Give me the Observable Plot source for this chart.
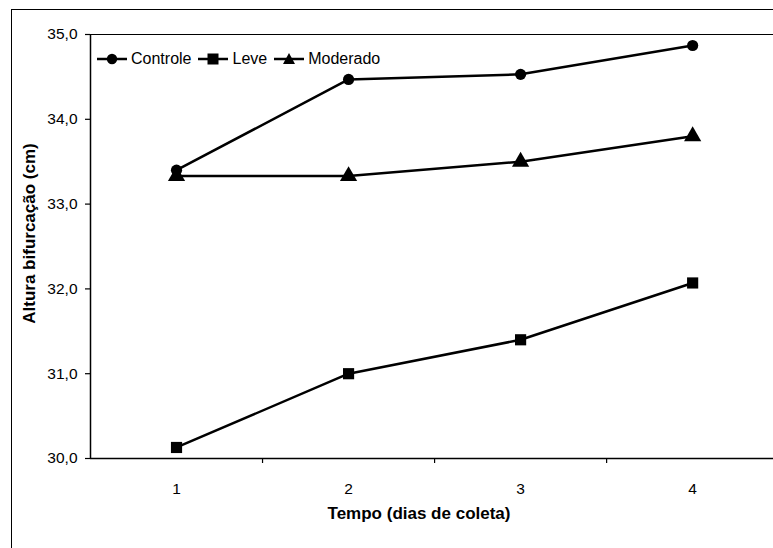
<!DOCTYPE html>
<html>
<head>
<meta charset="utf-8">
<script src="https://cdn.jsdelivr.net/npm/d3@7"></script>
<script src="https://cdn.jsdelivr.net/npm/@observablehq/plot@0.6"></script>
<style>
  html, body { margin: 0; padding: 0; background: #fff; }
  #wrap { position: relative; width: 773px; height: 548px; overflow: hidden; font-family: "Liberation Sans", Arial, sans-serif; }
  #border { position: absolute; left: 11px; top: 9px; width: 900px; height: 700px; border: 1.5px solid #000; pointer-events: none; }
  #legend { position: absolute; left: 97px; top: 50px; display: flex; align-items: center; font-size: 16px; color: #000; }
  #legend .item { display: flex; align-items: center; margin-right: 7px; }
  #legend svg { margin-right: 4px; }
</style>
</head>
<body>
<div id="wrap"><div id="border"></div></div>
<script>
const days = [1, 2, 3, 4];
const seriesNames = ["Controle", "Leve", "Moderado"];
const controle = [33.40, 34.47, 34.53, 34.87];
const leve = [30.13, 31.00, 31.40, 32.07];
const moderado = [33.33, 33.33, 33.50, 33.80];
const yTicks = [30, 31, 32, 33, 34, 35];
const xTitle = "Tempo (dias de coleta)";
const yTitle = "Altura bifurcação (cm)";

const valuesBySeries = {Controle: controle, Leve: leve, Moderado: moderado};
const rows = seriesNames.flatMap(s => days.map((d, i) => ({serie: s, dia: d, valor: valuesBySeries[s][i]})));
const symbolOf = {Controle: "circle", Leve: "square", Moderado: "triangle"};
const rOf = {Controle: 5.6, Leve: 6.3, Moderado: 6.4};
const fmt = d => d.toFixed(1).replace(".", ",");

const chart = Plot.plot({
  width: 773,
  height: 548,
  marginLeft: 90,
  marginRight: 0,
  marginTop: 34,
  marginBottom: 90,
  style: {fontFamily: "'Liberation Sans', Arial, sans-serif", fontSize: "15px", color: "#000", background: "transparent"},
  x: {type: "linear", domain: [0.5, 4.47]},
  y: {domain: [30, 35]},
  marks: [
    Plot.ruleY([35], {stroke: "#000", strokeWidth: 1.2}),
    Plot.ruleY([30], {stroke: "#000", strokeWidth: 1.5}),
    Plot.ruleX([0.5], {stroke: "#000", strokeWidth: 1.5}),
    Plot.axisY({ticks: yTicks, tickSize: 5, tickPadding: 8, tickFormat: fmt, label: null, strokeWidth: 1.2, fontSize: 15.5}),
    Plot.axisX({ticks: [1.5, 2.5, 3.5], tickSize: 5, tickFormat: () => "", label: null, strokeWidth: 1.2}),
    Plot.axisX({ticks: days, tickSize: 0, tickPadding: 24, tickFormat: d => String(d), label: null, fontSize: 15.5}),
    Plot.text([xTitle], {frameAnchor: "bottom", dx: -13, dy: 60, text: d => d, fontWeight: "bold", fontSize: 17, textAnchor: "middle"}),
    Plot.text([yTitle], {frameAnchor: "left", dx: -61, dy: -13, rotate: -90, text: d => d, fontWeight: "bold", fontSize: 17, textAnchor: "middle"}),
    Plot.line(rows, {x: "dia", y: "valor", z: "serie", stroke: "#000", strokeWidth: 2.5}),
    ...seriesNames.map(s => Plot.dot(rows.filter(r => r.serie === s), {x: "dia", y: "valor", symbol: () => symbolOf[s], r: rOf[s], fill: "#000", stroke: "none"}))
  ]
});
document.getElementById("wrap").appendChild(chart);
chart.style.position = "absolute";
chart.style.left = "0px";
chart.style.top = "0px";

// legend
const legend = document.createElement("div");
legend.id = "legend";
const icon = s => {
  const sym = s === "Controle" ? `<circle cx="15" cy="8" r="5.2" fill="#000"/>`
    : s === "Leve" ? `<rect x="9.5" y="2.5" width="11" height="11" fill="#000"/>`
    : `<polygon points="15,2 21,13 9,13" fill="#000"/>`;
  return `<svg width="30" height="16"><line x1="0" y1="8" x2="30" y2="8" stroke="#000" stroke-width="2.5"/>${sym}</svg>`;
};
legend.innerHTML = seriesNames.map(s => `<span class="item">${icon(s)}<span>${s}</span></span>`).join("");
document.getElementById("wrap").appendChild(legend);
</script>
</body>
</html>
